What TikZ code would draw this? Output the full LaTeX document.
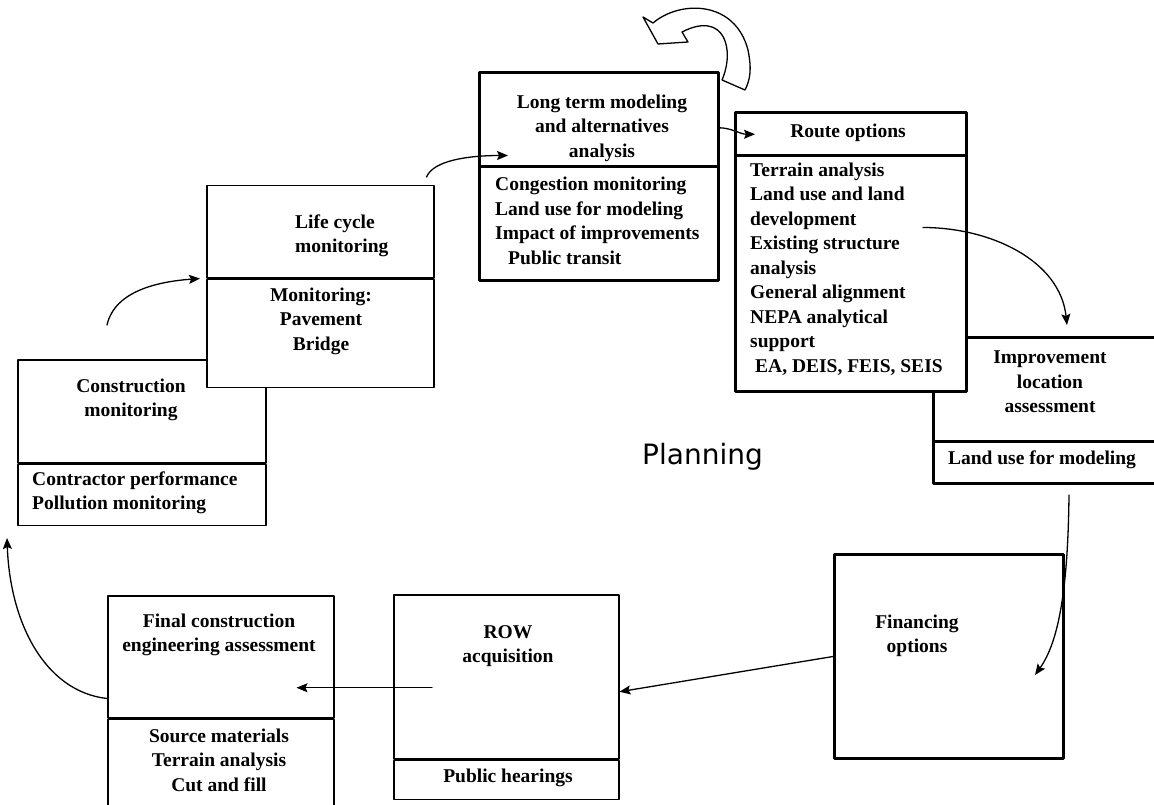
\documentclass[tikz,border=0pt]{standalone}
\usepackage{fontspec}
\setmainfont{Liberation Serif}
\newfontfamily\plansans{DejaVu Sans}
\usetikzlibrary{calc}
\usetikzlibrary{arrows.meta}
\usetikzlibrary{positioning}

\tikzset{
  part/.style={draw, line width=1.5pt, fill=white, inner sep=0pt, anchor=north west},
  heavy/.style={line width=3pt},
  lbl/.style={font=\fontsize{19.5}{24.5}\selectfont\bfseries, inner sep=0pt, align=center},
  lst/.style={lbl, align=left, anchor=west},
  conn/.style={->, line width=1.3pt},
}

\begin{document}
\begin{tikzpicture}[x=1pt, y=-1pt, line cap=round, line join=round, >={Stealth[length=11pt, width=9pt, inset=2pt]}]
  \useasboundingbox (0,0) rectangle (1154,805);
  %--- Construction monitoring
    \node[part, minimum width=248pt, minimum height=103pt] (conT) at (17,359) {};
    \node[part, minimum width=248pt, minimum height=61pt, below right=0pt of conT.south west] (conL) {};
    \node[lbl] (conTx) at (131,400) {Construction\\monitoring};
    \node[lst] (conLx) at (32,493) {Contractor performance\\Pollution monitoring};
  %--- Life cycle monitoring
    \node[part, minimum width=227pt, minimum height=92pt] (lifT) at (206,185) {};
    \node[part, minimum width=227pt, minimum height=108pt, below right=0pt of lifT.south west] (lifL) {};
    \node[lst] (lifTx) at (295,236) {Life cycle\\monitoring};
    \node[lbl] (lifLx) at (321,321) {Monitoring:\\Pavement\\Bridge};
  %--- Long term modeling
    \node[part, minimum width=238pt, minimum height=92pt] (ltmT) at (479,73) {};
    \node[part, minimum width=238pt, minimum height=112pt, below right=0pt of ltmT.south west] (ltmL) {};
    \draw[heavy] (ltmT.north west) rectangle (ltmL.south east);
    \node[lbl] (ltmTx) at (602,128) {Long term modeling\\and alternatives\\analysis};
    \node[lst] (ltmLx) at (495,221) {Congestion monitoring\\Land use for modeling\\Impact of improvements\\\hspace*{13pt}Public transit};
  %--- Improvement location assessment
    \node[part, minimum width=230pt, minimum height=103pt] (impT) at (933,337) {};
    \node[part, minimum width=230pt, minimum height=40pt, below right=0pt of impT.south west] (impL) {};
    \draw[heavy] (impT.north west) rectangle (impL.south east);
    \node[lbl] (impTx) at (1050,382) {Improvement\\location\\assessment};
    \node[lbl] (impLx) at (1042,460) {Land use for modeling};
  %--- Route options
    \node[part, minimum width=230pt, minimum height=41pt] (rteT) at (735,113) {};
    \node[part, minimum width=230pt, minimum height=234pt, below right=0pt of rteT.south west] (rteL) {};
    \draw[heavy] (rteT.north west) rectangle (rteL.south east);
    \node[lbl] (rteTx) at (848,133) {Route options};
    \node[lst] (rteLx) at (750,269) {Terrain analysis\\Land use and land\\development\\Existing structure\\analysis\\General alignment\\NEPA analytical\\support\\\hspace*{5pt}EA, DEIS, FEIS, SEIS};
  %--- Financing options
    \node[part, line width=3pt, minimum width=229pt, minimum height=204pt] (fin) at (833,553) {};
    \node[lbl] (finx) at (917,636) {Financing\\options};
  %--- ROW acquisition
    \node[part, minimum width=225pt, minimum height=164pt] (rowT) at (393,594) {};
    \node[part, minimum width=225pt, minimum height=39pt, below right=0pt of rowT.south west] (rowL) {};
    \node[lbl] (rowTx) at (508,646) {ROW\\acquisition};
    \node[lbl] (rowLx) at (508,778) {Public hearings};
  %--- Final construction engineering assessment
    \node[part, minimum width=226pt, minimum height=122pt] (fcnT) at (107,595) {};
    \node[part, minimum width=226pt, minimum height=86pt, below right=0pt of fcnT.south west] (fcnL) {};
    \node[lbl] (fcnTx) at (219,635) {Final construction\\engineering assessment};
    \node[lbl] (fcnLx) at (219,760) {Source materials\\Terrain analysis\\Cut and fill};
  %--- Planning
    \node[font=\plansans\fontsize{28}{34}\selectfont, anchor=base, inner sep=0pt] (plan) at (702.5,464) {Planning};
  %--- feedback arrow
    \draw[line width=1.3pt, fill=white] (643,17) -- (653,23) .. controls (680,0) and (735,0) .. (748,50)
      .. controls (752,70) and (750,80) .. (745,90) -- (722,80) .. controls (735,50) and (725,10) .. (682,32)
      -- (688,42) -- (658,44) -- cycle;
  %--- connector ends
    \coordinate (a1s) at ($(fcnT.south west)+(0,-20)$);
    \coordinate (a1e) at ($(conL.south west)+(-10,12)$);
    \coordinate (a2s) at ($(conT.north west)+(90,-34)$);
    \coordinate (a2e) at ($(lifL.north west)+(-6,0)$);
    \coordinate (a3s) at ($(lifT.north east)+(-8,-8)$);
    \coordinate (a3e) at ($(ltmT.south west)+(29,-11)$);
    \coordinate (a4s) at ($(ltmT.east)+(0,8)$);
    \coordinate (a4e) at ($(rteT.west)+(20,0)$);
    \coordinate (a5s) at ($(rteL.north west)+(188,72)$);
    \coordinate (a5e) at ($(impT.north west)+(134,-12)$);
    \coordinate (a6s) at ($(impL.south west)+(136,12)$);
    \coordinate (a6e) at ($(fin.north west)+(202,122)$);
    \coordinate (a7e) at ($(rowT.east)+(0,15)$);
    \coordinate (a8s) at ($(rowT.west)+(39,11)$);
    \coordinate (a8e) at ($(fcnT.east)+(-38,31)$);
  %--- connectors
    \draw[conn] (a1s) .. controls +(-62,-7) and +(3,85) .. (a1e);
    \draw[conn] (a2s) .. controls +(8,-35) and +(-40,3) .. (a2e);
    \draw[conn] (a3s) .. controls +(7,-17) and +(-38,0) .. (a3e);
    \draw[conn] (a4s) .. controls +(13,0) and +(-15,0) .. (a4e);
    \draw[conn] (a5s) .. controls +(67,0) and +(-7,-65) .. (a5e);
    \draw[conn] (a6s) .. controls +(-1,88) and +(25,-35) .. (a6e);
    \draw[conn] (fin.west) -- (a7e);
    \draw[conn] (a8s) -- (a8e);
\end{tikzpicture}
\end{document}
